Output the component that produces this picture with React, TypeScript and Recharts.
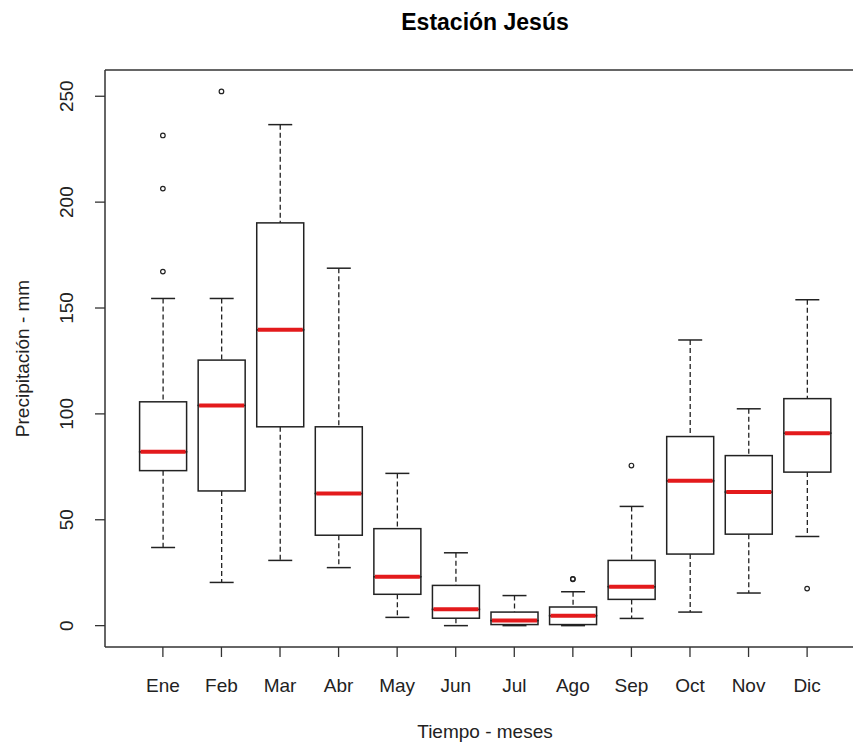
import { ComposedChart, Bar, Line, XAxis, YAxis, Label } from 'recharts';

const meses = ['Ene', 'Feb', 'Mar', 'Abr', 'May', 'Jun', 'Jul', 'Ago', 'Sep', 'Oct', 'Nov', 'Dic'];
const minimo = [36.9, 20.4, 30.8, 27.4, 3.9, 0, 0, 0, 3.4, 6.4, 15.4, 42.1];
const q1 = [73.2, 63.6, 93.9, 42.7, 14.8, 3.5, 0.5, 0.5, 12.4, 33.8, 43.2, 72.5];
const mediana = [82.1, 104.0, 139.7, 62.4, 23.1, 7.7, 2.4, 4.7, 18.4, 68.4, 63.1, 90.9];
const q3 = [105.7, 125.4, 190.2, 93.9, 45.8, 19.0, 6.4, 8.8, 30.8, 89.3, 80.3, 107.2];
const maximo = [154.5, 154.5, 236.6, 168.8, 71.9, 34.4, 14.2, 16.0, 56.3, 134.9, 102.4, 153.9];
const atipicos: number[][] = [
  [231.5, 206.4, 167.2],
  [252.3],
  [],
  [],
  [],
  [],
  [],
  [21.9, 22.1],
  [75.6],
  [],
  [],
  [17.5],
];
const yTicks = [0, 50, 100, 150, 200, 250];

const data = meses.map((mes, i) => ({
  mes,
  base: minimo[i],
  bigoteInf: q1[i] - minimo[i],
  cajaInf: mediana[i] - q1[i],
  cajaSup: q3[i] - mediana[i],
  bigoteSup: maximo[i] - q3[i],
  a1: atipicos[i][0] ?? null,
  a2: atipicos[i][1] ?? null,
  a3: atipicos[i][2] ?? null,
}));

const FONT = '"Liberation Sans", Arial, sans-serif';
const INK = '#222';
const ROJO = '#e31a1c';
const PAD = { left: 28.6, right: 28.6 };

const Vacio = () => <g />;

const BigoteInf = (p: any) => {
  const cx = p.x + p.width / 2;
  const yb = p.y + p.height;
  return (
    <g>
      <line x1={cx} x2={cx} y1={p.y} y2={yb} stroke={INK} strokeWidth={1.3} strokeDasharray="5 3" />
      <line x1={cx - 12} x2={cx + 12} y1={yb} y2={yb} stroke={INK} strokeWidth={1.5} />
    </g>
  );
};

const BigoteSup = (p: any) => {
  const cx = p.x + p.width / 2;
  return (
    <g>
      <line x1={cx} x2={cx} y1={p.y} y2={p.y + p.height} stroke={INK} strokeWidth={1.3} strokeDasharray="5 3" />
      <line x1={cx - 12} x2={cx + 12} y1={p.y} y2={p.y} stroke={INK} strokeWidth={1.5} />
    </g>
  );
};

const CajaInf = (p: any) => (
  <rect x={p.x} y={p.y} width={p.width} height={p.height} fill="#fff" stroke={INK} strokeWidth={1.5} />
);

const CajaSup = (p: any) => {
  const ym = p.y + p.height;
  return (
    <g>
      <rect x={p.x} y={p.y} width={p.width} height={p.height} fill="#fff" stroke={INK} strokeWidth={1.5} />
      <line x1={p.x + 1} x2={p.x + p.width - 1} y1={ym} y2={ym} stroke={ROJO} strokeWidth={4} />
    </g>
  );
};

const Atipico = (p: any) => {
  if (p.value == null || p.cy == null || isNaN(p.cy)) return <g key={p.key} />;
  return <circle key={p.key} cx={p.cx} cy={p.cy} r={2.3} fill="none" stroke={INK} strokeWidth={1.2} />;
};

const YTick = ({ x, y, payload }: any) => (
  <text
    transform={`translate(${x - 29},${y}) rotate(-90)`}
    textAnchor="middle"
    dy="0.35em"
    fontSize={19}
    fontFamily={FONT}
    fill="#222"
  >
    {payload.value}
  </text>
);

const XTick = ({ x, y, payload }: any) => (
  <text x={x} y={y + 33} textAnchor="middle" fontSize={19} fontFamily={FONT} fill="#222">
    {payload.value}
  </text>
);

export default function App() {
  return (
    <div style={{ position: 'absolute', left: 0, top: 0, width: 853, height: 747, overflow: 'hidden', background: '#fff' }}>
      <ComposedChart width={880} height={747} data={data} margin={{ top: 69, right: 15, bottom: 0, left: 0 }}>
        <XAxis
          dataKey="mes"
          height={100}
          padding={PAD}
          axisLine={{ stroke: '#333', strokeWidth: 1.5 }}
          tickLine={{ stroke: '#333', strokeWidth: 1.3 }}
          tickSize={10}
          tickMargin={2}
          tick={<XTick />}
          interval={0}
        >
          <Label
            content={({ viewBox }: any) => (
              <text
                x={viewBox.x + viewBox.width / 2}
                y={viewBox.y + 91}
                textAnchor="middle"
                fontSize={19}
                fontFamily={FONT}
                fill="#222"
              >
                Tiempo - meses
              </text>
            )}
          />
        </XAxis>
        <XAxis
          xAxisId="top"
          orientation="top"
          dataKey="mes"
          height={1}
          padding={PAD}
          tick={false}
          tickLine={false}
          axisLine={{ stroke: '#333', strokeWidth: 1.5 }}
        >
          <Label
            content={({ viewBox }: any) => (
              <text
                x={viewBox.x + viewBox.width / 2}
                y={viewBox.y - 39}
                textAnchor="middle"
                fontSize={23}
                fontWeight="bold"
                fontFamily={FONT}
                fill="#000"
              >
                Estación Jesús
              </text>
            )}
          />
        </XAxis>
        <YAxis
          type="number"
          width={105}
          domain={[-10.09, 262.4]}
          ticks={yTicks}
          allowDataOverflow
          axisLine={{ stroke: '#333', strokeWidth: 1.5 }}
          tickLine={{ stroke: '#333', strokeWidth: 1.3 }}
          tickSize={10}
          tickMargin={0}
          tick={<YTick />}
        >
          <Label
            content={({ viewBox }: any) => (
              <text
                transform={`translate(${viewBox.x + 22},${viewBox.y + viewBox.height / 2}) rotate(-90)`}
                textAnchor="middle"
                dy="0.35em"
                fontSize={19}
                fontFamily={FONT}
                fill="#222"
              >
                Precipitación - mm
              </text>
            )}
          />
        </YAxis>
        <Bar dataKey="base" stackId="caja" barSize={47} shape={<Vacio />} isAnimationActive={false} />
        <Bar dataKey="bigoteInf" stackId="caja" barSize={47} shape={<BigoteInf />} isAnimationActive={false} />
        <Bar dataKey="cajaInf" stackId="caja" barSize={47} shape={<CajaInf />} isAnimationActive={false} />
        <Bar dataKey="cajaSup" stackId="caja" barSize={47} shape={<CajaSup />} isAnimationActive={false} />
        <Bar dataKey="bigoteSup" stackId="caja" barSize={47} shape={<BigoteSup />} isAnimationActive={false} />
        <Line xAxisId="top" dataKey="a1" stroke="none" dot={Atipico} activeDot={false} isAnimationActive={false} />
        <Line xAxisId="top" dataKey="a2" stroke="none" dot={Atipico} activeDot={false} isAnimationActive={false} />
        <Line xAxisId="top" dataKey="a3" stroke="none" dot={Atipico} activeDot={false} isAnimationActive={false} />
      </ComposedChart>
    </div>
  );
}
